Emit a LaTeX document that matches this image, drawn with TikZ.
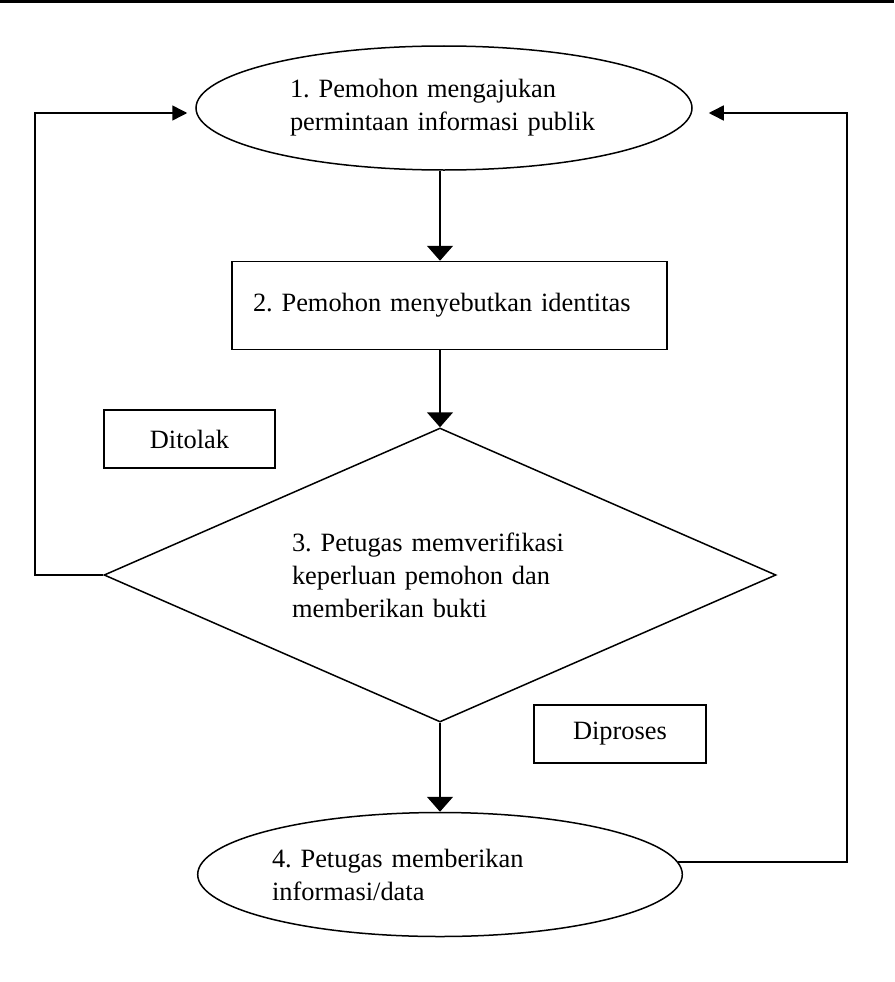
\documentclass[tikz,border=0pt]{standalone}
\usepackage{fontspec}
\setmainfont{Liberation Serif}
\frenchspacing
\usetikzlibrary{arrows.meta,shapes.geometric,positioning}

\begin{document}
\begin{tikzpicture}[
    x=1pt, y=-1pt,
    every node/.style={font={\fontsize{26.4}{33}\selectfont}},
    terminal/.style={draw, ellipse, line width=1.5pt, minimum height=124pt, align=left},
    proc/.style={draw, rectangle, line width=1.5pt, align=left},
    note/.style={draw, rectangle, line width=1.5pt, minimum width=171pt, minimum height=58pt},
    decision/.style={draw, diamond, aspect=2.29, line width=1.5pt, minimum width=672pt, minimum height=294pt, align=left},
    flow/.style={line width=1.5pt, -{Triangle[length=15pt, width=26pt]}},
    back/.style={line width=1.5pt, -{Triangle[length=15pt, width=15pt]}}
  ]
  \useasboundingbox (0,0) rectangle (894,982);
  \fill (0,0) rectangle (894,3);

  \node[terminal, minimum width=496pt, text width=308pt] (request) at (444,108)
  {1. Pemohon mengajukan\\permintaan informasi publik};

  \node[proc, minimum width=435pt, minimum height=88pt, text width=393pt,
    below=90pt of request.south, xshift=5.5pt] (identity)
  {2. Pemohon menyebutkan identitas};

  \node[decision, text width=296pt, below=77pt of identity, xshift=-9.5pt] (verify)
  {3. Petugas memverifikasi\\keperluan pemohon dan\\memberikan bukti};

  \node[terminal, minimum width=470pt, text width=336pt, below=89pt of verify] (answer)
  {4. Petugas memberikan\\informasi/data};

  \node[note] (rejected) at (189.5,439) {Ditolak};
  \node[note, minimum width=172pt] (processed) at (620,734) {Diproses};

  \coordinate (leftturn) at (35,113);
  \coordinate (rightturn) at (847,113);

  \draw[flow] (request.south -| verify.north) -- (identity.north -| verify.north);
  \draw[flow] (identity.south -| verify.north) -- (verify.north);
  \draw[flow] (verify.south) -- (answer.north);
  \draw[back, shorten >=8pt] (verify.west) -| (leftturn) -- (leftturn -| request.west);
  \draw[back, shorten >=16pt] (answer.3) -| (rightturn) -- (rightturn -| request.east);
\end{tikzpicture}
\end{document}
